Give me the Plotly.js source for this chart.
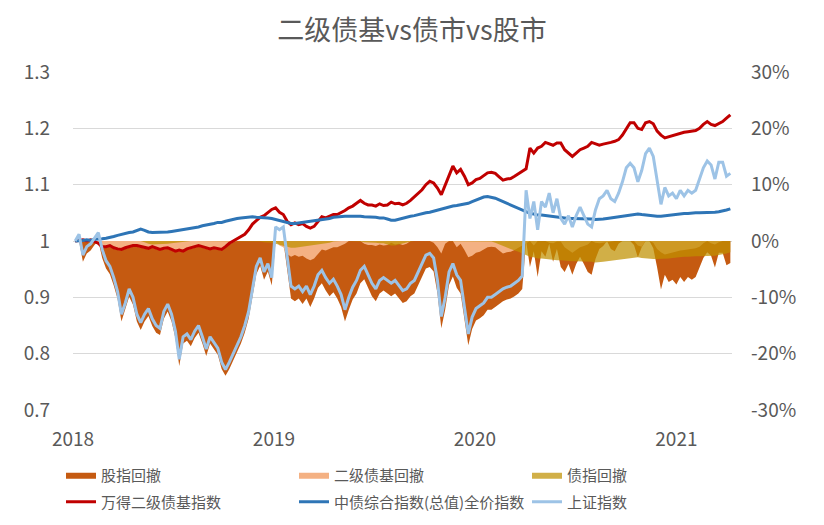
<!DOCTYPE html>
<html>
<head>
<meta charset="utf-8">
<script src="https://cdn.plot.ly/plotly-3.0.1.min.js"></script>
<style>html,body{margin:0;padding:0;background:#fff;}#chart{width:824px;height:525px;}</style>
</head>
<body>
<div id="chart"></div>
<script>
// weekly sampling grid (Fridays) from 2018-01-05 to 2021-04-09
const startDate = '2018-01-05';
const weekCount = 171;

// 万得二级债基指数 (left axis)
const fundIndex = [
1.0,1.001,1.002,1.0,1.002,0.999,0.996,0.99,0.99,0.992,
0.988,0.986,0.985,0.988,0.99,0.992,0.992,0.99,0.988,0.987,
0.99,0.988,0.985,0.987,0.988,0.985,0.982,0.984,0.982,0.986,
0.988,0.99,0.992,0.99,0.988,0.986,0.988,0.986,0.985,0.99,
0.996,1.0,1.004,1.008,1.012,1.02,1.03,1.036,1.042,1.045,
1.05,1.056,1.059,1.051,1.047,1.035,1.029,1.032,1.029,1.031,
1.026,1.023,1.026,1.035,1.043,1.041,1.044,1.047,1.047,1.05,
1.054,1.059,1.062,1.067,1.072,1.067,1.064,1.064,1.062,1.066,
1.063,1.064,1.069,1.066,1.067,1.064,1.067,1.072,1.078,1.085,
1.091,1.1,1.106,1.103,1.094,1.082,1.1,1.118,1.133,1.121,
1.127,1.115,1.1,1.103,1.109,1.111,1.116,1.121,1.122,1.12,
1.114,1.108,1.11,1.111,1.115,1.119,1.123,1.128,1.165,1.156,
1.165,1.168,1.175,1.172,1.17,1.174,1.174,1.162,1.156,1.15,
1.156,1.162,1.165,1.168,1.175,1.172,1.17,1.172,1.173,1.175,
1.177,1.18,1.188,1.2,1.21,1.21,1.2,1.198,1.21,1.212,
1.208,1.195,1.188,1.183,1.185,1.188,1.19,1.191,1.193,1.194,
1.195,1.196,1.2,1.207,1.212,1.207,1.205,1.209,1.212,1.218,1.224
];

// 中债综合指数(总值)全价指数 (left axis)
const bondIndex = [
1.0,1.0,1.001,1.002,1.001,1.003,1.003,1.004,1.005,1.006,
1.008,1.01,1.012,1.014,1.015,1.016,1.018,1.021,1.019,1.016,
1.015,1.015,1.016,1.015,1.016,1.017,1.018,1.019,1.02,1.021,
1.022,1.024,1.025,1.027,1.028,1.03,1.031,1.033,1.033,1.035,
1.037,1.039,1.04,1.041,1.042,1.043,1.043,1.042,1.042,1.041,
1.041,1.04,1.038,1.036,1.034,1.032,1.031,1.031,1.032,1.032,
1.033,1.034,1.036,1.037,1.038,1.039,1.04,1.042,1.043,1.043,
1.044,1.044,1.044,1.045,1.044,1.043,1.043,1.043,1.042,1.041,
1.041,1.039,1.037,1.037,1.039,1.041,1.042,1.044,1.045,1.047,
1.048,1.05,1.051,1.053,1.055,1.057,1.059,1.061,1.062,1.063,
1.064,1.066,1.067,1.07,1.073,1.076,1.078,1.079,1.078,1.076,
1.073,1.07,1.066,1.064,1.061,1.058,1.055,1.052,1.049,1.048,
1.046,1.046,1.045,1.044,1.043,1.042,1.042,1.041,1.04,1.04,
1.04,1.04,1.04,1.04,1.039,1.038,1.038,1.039,1.04,1.041,
1.042,1.043,1.044,1.045,1.046,1.047,1.048,1.047,1.046,1.046,
1.045,1.044,1.044,1.045,1.046,1.047,1.048,1.048,1.049,1.049,
1.05,1.05,1.05,1.05,1.05,1.051,1.051,1.052,1.053,1.055,1.057
];

// 上证指数 (left axis)
const stockIndex = [
1.0,1.012,0.975,0.99,0.995,1.005,1.015,0.985,0.965,0.955,
0.935,0.91,0.87,0.89,0.915,0.9,0.87,0.855,0.87,0.88,
0.862,0.85,0.845,0.875,0.888,0.87,0.84,0.79,0.83,0.835,
0.825,0.84,0.85,0.83,0.808,0.83,0.82,0.81,0.785,0.772,
0.785,0.8,0.815,0.83,0.85,0.875,0.915,0.955,0.97,0.945,
0.96,0.935,1.025,1.02,1.025,0.97,0.92,0.915,0.92,0.91,
0.92,0.905,0.92,0.94,0.948,0.935,0.925,0.932,0.92,0.905,
0.878,0.9,0.918,0.93,0.948,0.955,0.94,0.925,0.915,0.93,
0.935,0.93,0.925,0.93,0.92,0.912,0.915,0.925,0.93,0.945,
0.96,0.975,0.978,0.97,0.93,0.866,0.9,0.945,0.96,0.94,
0.93,0.88,0.835,0.865,0.88,0.885,0.89,0.9,0.9,0.905,
0.91,0.915,0.918,0.92,0.925,0.93,0.938,1.09,1.04,1.07,
1.02,1.07,1.06,1.085,1.05,1.075,1.04,1.03,1.045,1.025,
1.045,1.06,1.045,1.03,1.025,1.055,1.075,1.08,1.09,1.075,
1.07,1.085,1.105,1.13,1.138,1.13,1.105,1.125,1.155,1.165,
1.15,1.11,1.065,1.095,1.08,1.085,1.075,1.09,1.08,1.09,
1.085,1.09,1.11,1.13,1.142,1.135,1.11,1.14,1.14,1.115,1.12
];

// 股指回撤 (right axis, fraction)
const stockDrawdown = [
0,0,-0.037,-0.022,-0.017,-0.007,0,-0.03,-0.049,-0.059,
-0.079,-0.103,-0.143,-0.123,-0.099,-0.113,-0.143,-0.158,-0.143,-0.133,
-0.151,-0.163,-0.167,-0.138,-0.125,-0.143,-0.172,-0.222,-0.182,-0.177,
-0.187,-0.172,-0.163,-0.182,-0.204,-0.182,-0.192,-0.202,-0.227,-0.239,
-0.227,-0.212,-0.197,-0.182,-0.163,-0.138,-0.099,-0.059,-0.044,-0.069,
-0.054,-0.079,0,-0.005,0,-0.054,-0.102,-0.107,-0.102,-0.112,
-0.102,-0.117,-0.102,-0.083,-0.075,-0.088,-0.098,-0.091,-0.102,-0.117,
-0.143,-0.122,-0.104,-0.093,-0.075,-0.068,-0.083,-0.098,-0.107,-0.093,
-0.088,-0.093,-0.098,-0.093,-0.102,-0.11,-0.107,-0.098,-0.093,-0.078,
-0.063,-0.049,-0.046,-0.054,-0.093,-0.155,-0.122,-0.078,-0.063,-0.083,
-0.093,-0.141,-0.185,-0.156,-0.141,-0.137,-0.132,-0.122,-0.122,-0.117,
-0.112,-0.107,-0.104,-0.102,-0.098,-0.093,-0.085,0,-0.046,-0.018,
-0.064,-0.018,-0.028,-0.005,-0.037,-0.014,-0.046,-0.055,-0.041,-0.06,
-0.041,-0.028,-0.041,-0.055,-0.06,-0.032,-0.014,-0.009,0,-0.014,
-0.018,-0.005,0,0,0,-0.007,-0.029,-0.011,0,0,
-0.013,-0.047,-0.086,-0.06,-0.073,-0.069,-0.077,-0.064,-0.073,-0.064,
-0.069,-0.064,-0.047,-0.03,-0.02,-0.026,-0.047,-0.021,-0.021,-0.043,-0.039
];

// 二级债基回撤 (right axis, fraction)
const fundDrawdown = [
0,0,0,-0.002,0,-0.003,-0.006,-0.012,-0.012,-0.01,
-0.014,-0.016,-0.017,-0.014,-0.012,-0.01,-0.01,-0.012,-0.014,-0.015,
-0.012,-0.014,-0.017,-0.015,-0.014,-0.017,-0.02,-0.018,-0.02,-0.016,
-0.014,-0.012,-0.01,-0.012,-0.014,-0.016,-0.014,-0.016,-0.017,-0.012,
-0.006,-0.002,0,0,0,0,0,0,0,0,
0,0,0,-0.008,-0.011,-0.023,-0.028,-0.025,-0.028,-0.026,
-0.031,-0.034,-0.031,-0.023,-0.015,-0.017,-0.014,-0.011,-0.011,-0.008,
-0.005,0,0,0,0,-0.005,-0.007,-0.007,-0.009,-0.006,
-0.008,-0.007,-0.003,-0.006,-0.005,-0.007,-0.005,0,0,0,
0,0,0,-0.003,-0.011,-0.022,-0.005,0,0,-0.011,
-0.005,-0.016,-0.029,-0.026,-0.021,-0.019,-0.015,-0.011,-0.01,-0.011,
-0.017,-0.022,-0.02,-0.019,-0.016,-0.012,-0.009,-0.004,0,-0.008,
0,0,0,-0.003,-0.004,-0.001,-0.001,-0.011,-0.016,-0.021,
-0.016,-0.011,-0.009,-0.006,0,-0.003,-0.004,-0.003,-0.002,0,
0,0,0,0,0,0,-0.008,-0.01,0,0,
-0.003,-0.014,-0.02,-0.024,-0.022,-0.02,-0.018,-0.017,-0.016,-0.015,
-0.014,-0.013,-0.01,-0.004,0,-0.004,-0.006,-0.002,0,0,0
];

// 债指回撤 (right axis, fraction)
const bondDrawdown = [
0,0,0,0,-0.001,0,0,0,0,0,
0,0,0,0,0,0,0,0,-0.002,-0.005,
-0.006,-0.006,-0.005,-0.006,-0.005,-0.004,-0.003,-0.002,-0.001,0,
0,0,0,0,0,0,0,0,0,0,
0,0,0,0,0,0,0,-0.001,-0.001,-0.002,
-0.002,-0.003,-0.005,-0.007,-0.009,-0.011,-0.012,-0.012,-0.011,-0.011,
-0.01,-0.009,-0.007,-0.006,-0.005,-0.004,-0.003,-0.001,0,0,
0,0,0,0,-0.001,-0.002,-0.002,-0.002,-0.003,-0.004,
-0.004,-0.006,-0.008,-0.008,-0.006,-0.004,-0.003,-0.001,0,0,
0,0,0,0,0,0,0,0,0,0,
0,0,0,0,0,0,0,0,-0.001,-0.003,
-0.006,-0.008,-0.012,-0.014,-0.017,-0.019,-0.022,-0.025,-0.028,-0.029,
-0.031,-0.031,-0.032,-0.032,-0.033,-0.034,-0.034,-0.035,-0.036,-0.036,
-0.036,-0.036,-0.036,-0.036,-0.037,-0.038,-0.038,-0.037,-0.036,-0.035,
-0.034,-0.033,-0.032,-0.032,-0.031,-0.03,-0.029,-0.03,-0.031,-0.031,
-0.032,-0.032,-0.032,-0.032,-0.031,-0.03,-0.029,-0.029,-0.028,-0.028,
-0.027,-0.027,-0.027,-0.027,-0.027,-0.026,-0.026,-0.025,-0.024,-0.022,-0.02
];

// tick labels
const yearTicks = ['2018-01-01','2019-01-01','2020-01-01','2021-01-01'];
const yearLabels = ['2018','2019','2020','2021'];
const leftTicks = [0.7,0.8,0.9,1.0,1.1,1.2,1.3];
const leftLabels = ['0.7','0.8','0.9','1','1.1','1.2','1.3'];
const rightTicks = [-0.3,-0.2,-0.1,0,0.1,0.2,0.3];
const rightLabels = ['-30%','-20%','-10%','0%','10%','20%','30%'];

const dates = [];
const t0 = Date.parse(startDate + 'T00:00:00Z');
for (let i = 0; i < weekCount; i++) {
  dates.push(new Date(t0 + i * 7 * 86400000).toISOString().slice(0, 10));
}

const FONT = '"Noto Sans CJK SC", "Noto Sans", sans-serif';
const GREY = '#595959';
const W = 824, H = 525;

const traces = [
  {name:'股指回撤', x:dates, y:stockDrawdown, yaxis:'y', type:'scatter', mode:'lines',
   fill:'tozeroy', fillcolor:'#C55A11', line:{width:0, color:'#C55A11'}, legend:'legend', hoverinfo:'skip'},
  {name:'二级债基回撤', x:dates, y:fundDrawdown, yaxis:'y', type:'scatter', mode:'lines',
   fill:'tozeroy', fillcolor:'#F4B183', line:{width:0, color:'#F4B183'}, legend:'legend2', hoverinfo:'skip'},
  {name:'债指回撤', x:dates, y:bondDrawdown, yaxis:'y', type:'scatter', mode:'lines',
   fill:'tozeroy', fillcolor:'rgba(191,144,0,0.72)', line:{width:0, color:'rgba(191,144,0,0.72)'}, legend:'legend3', hoverinfo:'skip'},
  {name:'万得二级债基指数', x:dates, y:fundIndex, yaxis:'y2', type:'scatter', mode:'lines',
   line:{width:3, color:'#C00000'}, legend:'legend4'},
  {name:'中债综合指数(总值)全价指数', x:dates, y:bondIndex, yaxis:'y2', type:'scatter', mode:'lines',
   line:{width:3, color:'#2E75B6'}, legend:'legend5'},
  {name:'上证指数', x:dates, y:stockIndex, yaxis:'y2', type:'scatter', mode:'lines',
   line:{width:3, color:'#9DC3E6'}, legend:'legend6'}
];

function legendAt(px, py) {
  return {
    orientation:'h', xanchor:'left', yanchor:'middle', xref:'paper', yref:'container',
    x:(px - 73) / 659, y:1 - py / H,
    font:{family:FONT, size:15, color:GREY}, bgcolor:'rgba(0,0,0,0)'
  };
}

const layout = {
  width:W, height:H,
  margin:{l:73, r:92, t:72, b:115},
  paper_bgcolor:'#ffffff', plot_bgcolor:'#ffffff',
  font:{family:FONT, color:GREY},
  title:{text:'二级债基vs债市vs股市', font:{family:FONT, size:27, color:GREY},
         x:0.5, xanchor:'center', y:1 - 31/H, yanchor:'middle'},
  xaxis:{type:'date', range:['2018-01-01','2021-04-12'], tickmode:'array',
         tickvals:yearTicks, ticktext:yearLabels, showgrid:false, zeroline:false,
         showline:false, ticks:'', ticklabelstandoff:16, automargin:false,
         tickfont:{family:FONT, size:19, color:GREY}},
  yaxis:{side:'right', range:[-0.3,0.3], tickmode:'array', tickvals:rightTicks, ticktext:rightLabels,
         showgrid:true, gridcolor:'#D9D9D9', gridwidth:1, zeroline:false, showline:false, ticks:'',
         ticklabelstandoff:18, automargin:false, tickfont:{family:FONT, size:19, color:GREY}},
  yaxis2:{overlaying:'y', side:'left', range:[0.7,1.3], tickmode:'array', tickvals:leftTicks, ticktext:leftLabels,
          showgrid:false, zeroline:false, showline:false, ticks:'', automargin:false,
          ticklabelstandoff:22, tickfont:{family:FONT, size:19, color:GREY}},
  legend:legendAt(61, 475),
  legend2:legendAt(294, 475),
  legend3:legendAt(527, 475),
  legend4:legendAt(61, 502),
  legend5:legendAt(294, 502),
  legend6:legendAt(527, 502),
  showlegend:true
};

Plotly.newPlot('chart', traces, layout, {displayModeBar:false, staticPlot:true});
</script>
</body>
</html>
